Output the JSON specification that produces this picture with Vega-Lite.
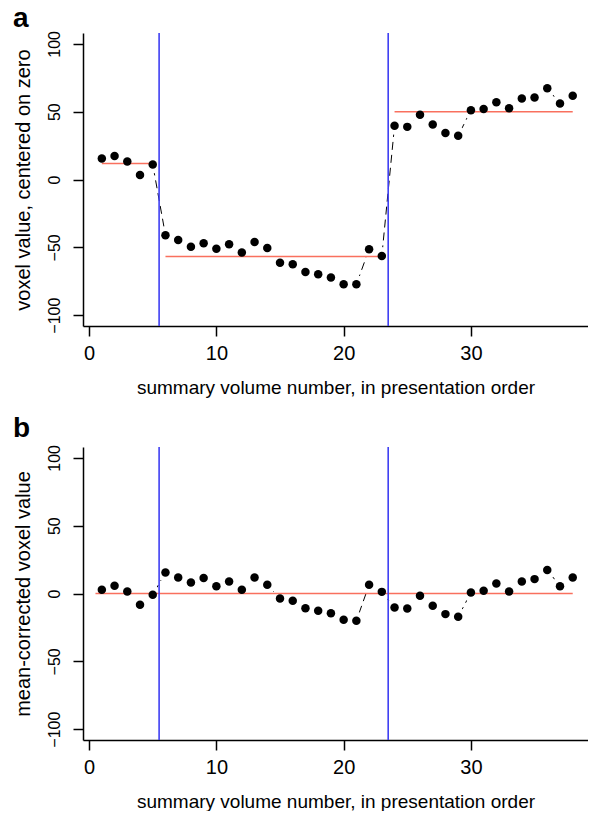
{
  "$schema": "https://vega.github.io/schema/vega-lite/v6.json",
  "background": "white",
  "padding": {"left": 12, "top": 4, "right": 0, "bottom": 0},
  "config": {
    "font": "Liberation Sans",
    "view": {"stroke": null},
    "axis": {
      "grid": false,
      "domainColor": "black",
      "domainWidth": 1.5,
      "tickColor": "black",
      "tickWidth": 1.5,
      "tickSize": 10,
      "labelColor": "black",
      "titleColor": "black",
      "titleFontWeight": "normal",
      "labelFont": "Liberation Sans",
      "titleFont": "Liberation Sans"
    },
    "axisX": {"labelFontSize": 20, "titleFontSize": 19, "labelPadding": 7, "titlePadding": 15, "labelFlush": false, "labelOverlap": false},
    "axisY": {"labelFontSize": 16, "titleFontSize": 20, "labelAngle": 270, "labelAlign": "center", "labelBaseline": "bottom", "labelPadding": 11, "titlePadding": 13},
    "title": {"fontSize": 28, "fontWeight": "bold", "anchor": "start", "frame": "bounds", "color": "black", "font": "Liberation Sans"}
  },
  "datasets": {
    "pts": [
      {"vol": 1, "a": 15.5, "b": 2.7},
      {"vol": 2, "a": 17.4, "b": 5.7},
      {"vol": 3, "a": 13.3, "b": 1.5},
      {"vol": 4, "a": 3.4, "b": -8.3},
      {"vol": 5, "a": 11.1, "b": -1.0},
      {"vol": 6, "a": -41.1, "b": 15.5},
      {"vol": 7, "a": -44.6, "b": 11.8},
      {"vol": 8, "a": -49.5, "b": 8.1},
      {"vol": 9, "a": -47.0, "b": 11.4},
      {"vol": 10, "a": -51.0, "b": 5.4},
      {"vol": 11, "a": -47.7, "b": 8.9},
      {"vol": 12, "a": -53.9, "b": 2.7},
      {"vol": 13, "a": -46.0, "b": 11.8},
      {"vol": 14, "a": -50.5, "b": 6.4},
      {"vol": 15, "a": -61.3, "b": -3.7},
      {"vol": 16, "a": -62.5, "b": -5.4},
      {"vol": 17, "a": -68.2, "b": -10.8},
      {"vol": 18, "a": -69.9, "b": -12.8},
      {"vol": 19, "a": -72.3, "b": -14.5},
      {"vol": 20, "a": -77.3, "b": -19.4},
      {"vol": 21, "a": -77.3, "b": -20.1},
      {"vol": 22, "a": -51.4, "b": 6.4},
      {"vol": 23, "a": -56.4, "b": 1.2},
      {"vol": 24, "a": 39.6, "b": -10.3},
      {"vol": 25, "a": 38.8, "b": -11.0},
      {"vol": 26, "a": 47.7, "b": -1.7},
      {"vol": 27, "a": 40.6, "b": -9.1},
      {"vol": 28, "a": 34.2, "b": -15.2},
      {"vol": 29, "a": 32.2, "b": -17.2},
      {"vol": 30, "a": 51.1, "b": 0.7},
      {"vol": 31, "a": 51.9, "b": 2.0},
      {"vol": 32, "a": 57.0, "b": 7.4},
      {"vol": 33, "a": 52.6, "b": 1.5},
      {"vol": 34, "a": 59.8, "b": 8.9},
      {"vol": 35, "a": 60.5, "b": 10.6},
      {"vol": 36, "a": 67.2, "b": 17.3},
      {"vol": 37, "a": 56.1, "b": 5.4},
      {"vol": 38, "a": 61.7, "b": 11.8}
    ],
    "meansA": [
      {"x0": 1, "x1": 5, "m": 11.8},
      {"x0": 6, "x1": 23, "m": -56.8},
      {"x0": 24, "x1": 38, "m": 49.9}
    ],
    "meansB": [
      {"x0": 0.5, "x1": 38, "m": 0}
    ],
    "bounds": [
      {"x": 5.5},
      {"x": 23.5}
    ]
  },
  "spacing": 17,
  "vconcat": [
    {
      "title": {"text": "a", "offset": -2},
      "width": 505,
      "height": 293,
      "layer": [
        {
          "data": {"name": "pts"},
          "mark": {"type": "line", "color": "black", "strokeWidth": 1, "strokeDash": [8, 5]},
          "encoding": {
            "x": {"field": "vol", "type": "quantitative", "scale": {"domain": [-0.48, 39.2], "nice": false, "zero": false},
                  "axis": {"values": [0, 10, 20, 30], "title": "summary volume number, in presentation order"}},
            "y": {"field": "a", "type": "quantitative", "scale": {"domain": [-108, 108], "nice": false, "zero": false},
                  "axis": {"values": [-100, -50, 0, 50, 100], "title": "voxel value, centered on zero"}}
          }
        },
        {
          "data": {"name": "pts"},
          "mark": {"type": "point", "filled": true, "color": "white", "opacity": 1, "size": 324},
          "encoding": {
            "x": {"field": "vol", "type": "quantitative"},
            "y": {"field": "a", "type": "quantitative"}
          }
        },
        {
          "mark": {"type": "rule", "color": "black", "strokeWidth": 1.5},
          "encoding": {"y": {"datum": 108, "type": "quantitative"}}
        },
        {
          "data": {"name": "meansA"},
          "mark": {"type": "rule", "color": "#f9705e", "strokeWidth": 1.6},
          "encoding": {
            "x": {"field": "x0", "type": "quantitative"},
            "x2": {"field": "x1"},
            "y": {"field": "m", "type": "quantitative"}
          }
        },
        {
          "data": {"name": "bounds"},
          "mark": {"type": "rule", "color": "#3f3ff2", "strokeWidth": 1.6},
          "encoding": {
            "x": {"field": "x", "type": "quantitative"}
          }
        },
        {
          "data": {"name": "pts"},
          "mark": {"type": "point", "filled": true, "color": "black", "opacity": 1, "size": 72},
          "encoding": {
            "x": {"field": "vol", "type": "quantitative"},
            "y": {"field": "a", "type": "quantitative"}
          }
        }
      ]
    },
    {
      "title": {"text": "b", "offset": 2},
      "width": 505,
      "height": 293,
      "layer": [
        {
          "data": {"name": "pts"},
          "mark": {"type": "line", "color": "black", "strokeWidth": 1, "strokeDash": [8, 5]},
          "encoding": {
            "x": {"field": "vol", "type": "quantitative", "scale": {"domain": [-0.48, 39.2], "nice": false, "zero": false},
                  "axis": {"values": [0, 10, 20, 30], "title": "summary volume number, in presentation order"}},
            "y": {"field": "b", "type": "quantitative", "scale": {"domain": [-108, 108], "nice": false, "zero": false},
                  "axis": {"values": [-100, -50, 0, 50, 100], "title": "mean-corrected voxel value"}}
          }
        },
        {
          "data": {"name": "pts"},
          "mark": {"type": "point", "filled": true, "color": "white", "opacity": 1, "size": 324},
          "encoding": {
            "x": {"field": "vol", "type": "quantitative"},
            "y": {"field": "b", "type": "quantitative"}
          }
        },
        {
          "mark": {"type": "rule", "color": "black", "strokeWidth": 1.5},
          "encoding": {"y": {"datum": 108, "type": "quantitative"}}
        },
        {
          "data": {"name": "meansB"},
          "mark": {"type": "rule", "color": "#f9705e", "strokeWidth": 1.6},
          "encoding": {
            "x": {"field": "x0", "type": "quantitative"},
            "x2": {"field": "x1"},
            "y": {"field": "m", "type": "quantitative"}
          }
        },
        {
          "data": {"name": "bounds"},
          "mark": {"type": "rule", "color": "#3f3ff2", "strokeWidth": 1.6},
          "encoding": {
            "x": {"field": "x", "type": "quantitative"}
          }
        },
        {
          "data": {"name": "pts"},
          "mark": {"type": "point", "filled": true, "color": "black", "opacity": 1, "size": 72},
          "encoding": {
            "x": {"field": "vol", "type": "quantitative"},
            "y": {"field": "b", "type": "quantitative"}
          }
        }
      ]
    }
  ]
}
